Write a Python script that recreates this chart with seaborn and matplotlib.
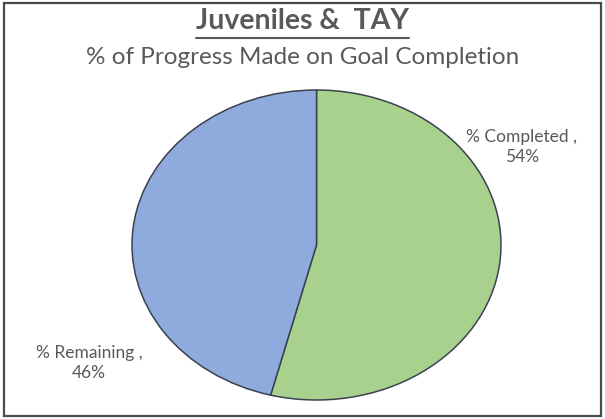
import matplotlib
matplotlib.use("Agg")
import matplotlib.pyplot as plt
import seaborn as sns
from matplotlib.lines import Line2D
from matplotlib.patches import Rectangle

sns.set_theme(style="white")
plt.rcParams["font.family"] = ["Lato", "DejaVu Sans"]

# Data
categories = ["% Completed", "% Remaining"]
values = [54, 46]
colors = ["#A9D18E", "#8FAADC"]

title = "Juveniles &  TAY"
subtitle = "% of Progress Made on Goal Completion"

fig = plt.figure(figsize=(6.05, 4.19), dpi=100)
fig.patch.set_facecolor("white")

# Outer frame
fig.add_artist(Rectangle((0.006, 0.008), 0.988, 0.984, transform=fig.transFigure,
                         fill=False, edgecolor="#4a4a4a", linewidth=1.6))

# Pie drawn in an axes with free aspect so it becomes an ellipse
ax = fig.add_axes([132 / 605, (419 - 400) / 419, 369 / 605, 310 / 419])
wedges, _ = ax.pie(values, colors=colors, startangle=90, counterclock=False,
                   radius=1.0,
                   wedgeprops=dict(edgecolor="#3a4250", linewidth=1.1))
ax.set_aspect("auto")
ax.set_xlim(-1, 1)
ax.set_ylim(-1, 1)
ax.axis("off")

# Category labels with values
label_pos = [(522 / 605, 1 - 147 / 419), (89 / 605, 1 - 363 / 419)]
for cat, val, (x, y) in zip(categories, values, label_pos):
    fig.text(x, y, f"{cat} ,\n{val}%", ha="center", va="center",
             fontsize=12.5, color="#595959", linespacing=1.3)

# Title with underline
t = fig.text(0.5, 1 - 21 / 419, title, ha="center", va="center",
             fontsize=20.5, fontweight="bold", color="#595959")
fig.text(0.5, 1 - 58 / 419, subtitle, ha="center", va="center",
         fontsize=17.5, color="#595959")

fig.canvas.draw()
bb = t.get_window_extent().transformed(fig.transFigure.inverted())
uy = 1 - 38 / 419
fig.add_artist(Line2D([bb.x0, bb.x1], [uy, uy], transform=fig.transFigure,
                      color="#595959", linewidth=1.5))

fig.savefig("out.png", dpi=100)
